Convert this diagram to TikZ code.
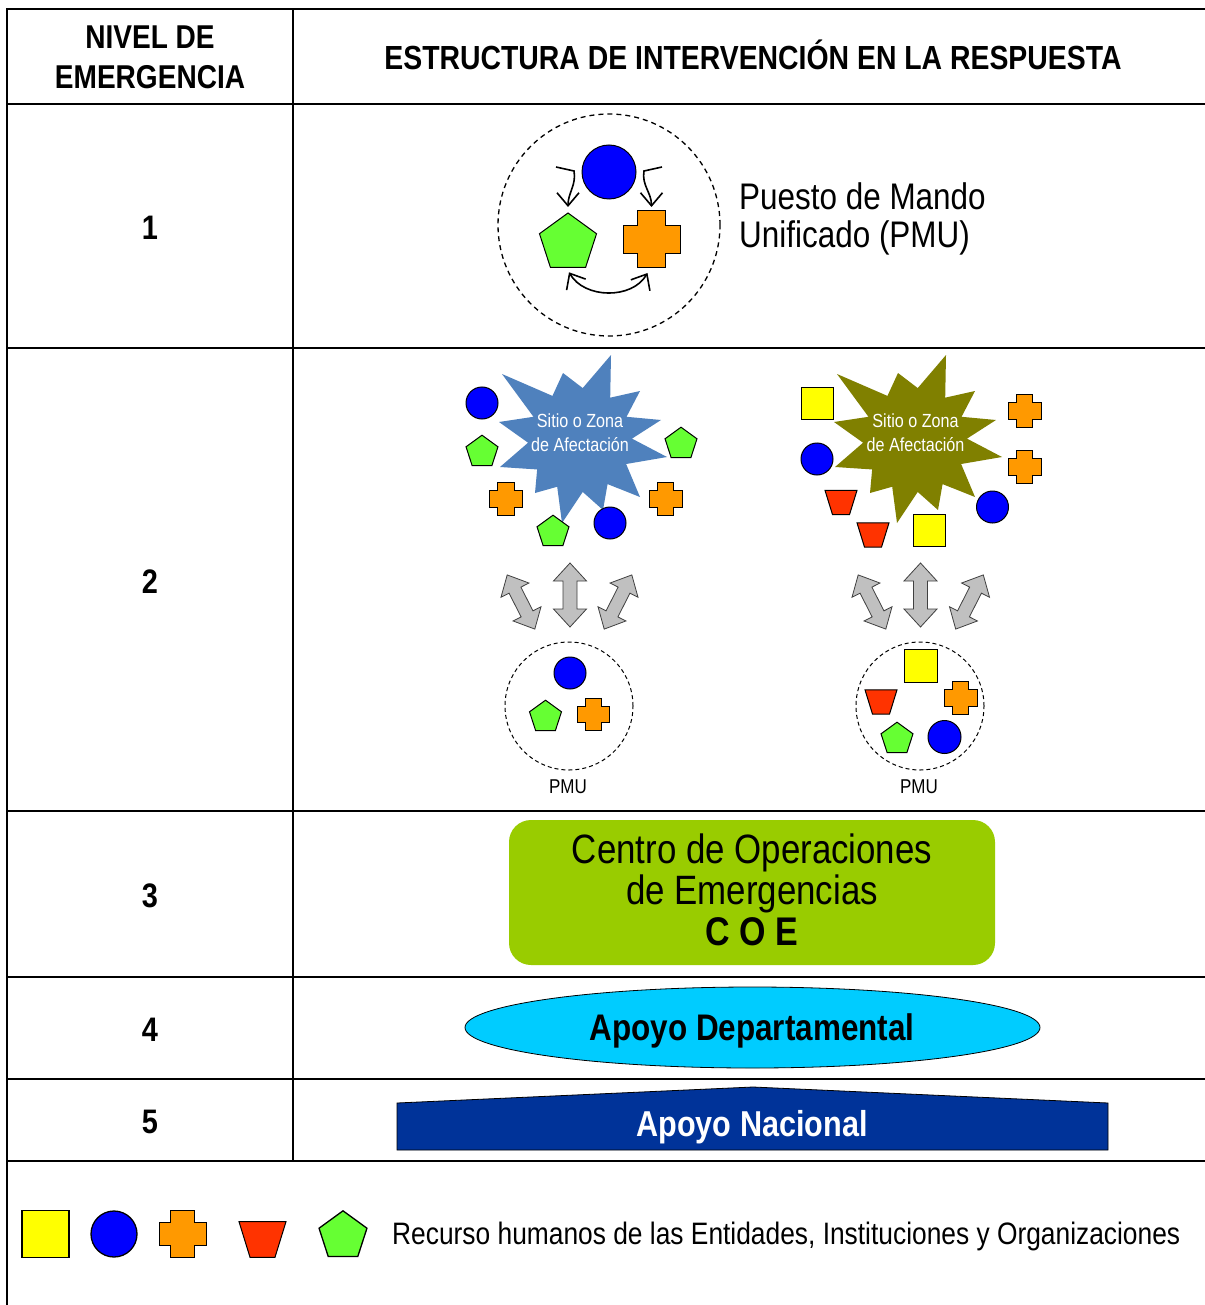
\documentclass[tikz,border=0pt]{standalone}
\usepackage{fontspec}
\setmainfont{Liberation Sans}[FakeStretch=0.85]
\usetikzlibrary{shapes.geometric,arrows.meta,calc}
\newcommand\fsz[2]{\fontsize{#1}{#2}\selectfont}
\definecolor{cblue}{HTML}{0000FF}
\definecolor{cgreen}{HTML}{66FF33}
\definecolor{corange}{HTML}{FF9900}
\definecolor{cyellow}{HTML}{FFFF00}
\definecolor{cred}{HTML}{FF3300}
\definecolor{cstarA}{HTML}{4F81BD}
\definecolor{cstarB}{HTML}{808000}
\definecolor{cgrayarr}{HTML}{C0C0C0}
\definecolor{ccoe}{HTML}{99CC00}
\definecolor{cell}{HTML}{00CCFF}
\definecolor{cnac}{HTML}{003399}
\tikzset{
  tbl/.style={line width=2pt, line cap=rect},
  shp/.style={draw=black, line width=1pt, inner sep=0pt, outer sep=0pt},
  bluec/.style={shp, circle, fill=cblue, minimum size=#1},
  greenp/.style={shp, regular polygon, regular polygon sides=5, fill=cgreen, minimum size=#1},
  yellows/.style={shp, rectangle, fill=cyellow, minimum size=#1},
  ghost/.style={inner sep=0pt, outer sep=0pt, minimum size=#1},
  pics/plusx/.style={code={
    \filldraw[fill=corange, draw=black, line width=1pt]
      ({-#1/2},{-#1}) -- ({#1/2},{-#1}) -- ({#1/2},{-#1/2}) -- ({#1},{-#1/2}) --
      ({#1},{#1/2}) -- ({#1/2},{#1/2}) -- ({#1/2},{#1}) -- ({-#1/2},{#1}) --
      ({-#1/2},{#1/2}) -- ({-#1},{#1/2}) -- ({-#1},{-#1/2}) -- ({-#1/2},{-#1/2}) -- cycle;}},
  pics/trapx/.style={code={
    \filldraw[fill=cred, draw=black, line width=1pt]
      ({-#1},{0.76*#1}) -- ({#1},{0.76*#1}) -- ({0.53*#1},{-0.76*#1}) -- ({-0.53*#1},{-0.76*#1}) -- cycle;}},
  pics/burst/.style={code={
    \fill[#1] (31,85) -- (54.5:52) -- (60,49) -- (26.5:52) -- (81,20) -- (1.5:52) --
      (87,-17) -- (-27.5:52) -- (60,-57) -- (-58:52) -- (23,-70) -- (-87:52) --
      (-18,-83) -- (-116:52) -- (-45,-53) -- (-145.5:52) -- (-80,-27) -- (-177:52) --
      (-81,18) -- (153.5:52) -- (-78,66) -- (122:52) -- (-17,67) -- (87:52) -- cycle;}},
  pics/dblarr/.style={code={
    \filldraw[fill=cgrayarr, draw=black!75, line width=0.8pt]
      (-32,0) -- (-14,16.5) -- (-14,7) -- (14,7) -- (14,16.5) -- (32,0) --
      (14,-16.5) -- (14,-7) -- (-14,-7) -- (-14,-16.5) -- cycle;}},
  lvarr/.style={line width=1.6pt, -{Straight Barb[length=13pt,width=22pt]}},
  lvdbl/.style={line width=1.6pt, {Straight Barb[length=13pt,width=22pt]}-{Straight Barb[length=13pt,width=22pt]}},
  pmucirc/.style={draw=black, dash pattern=on 4pt off 3pt, line width=1pt, circle, minimum size=128pt, inner sep=0pt},
  hdr/.style={font=\bfseries\fsz{33}{40}, align=center, inner sep=0pt},
  num/.style={font=\bfseries\fsz{34}{40}, inner sep=0pt, anchor=base},
  stxt/.style={font=\fsz{19}{24}, text=white, align=center, inner sep=0pt, anchor=north},
  pmutxt/.style={font=\fsz{20}{24}, inner sep=0pt, anchor=base},
}
\begin{document}
\begin{tikzpicture}[x=1pt, y=1pt]
\useasboundingbox (0,0) rectangle (1204,-1305);
\fill[white] (0,0) rectangle (1204,-1305);

% table frame
\draw[tbl] (1204,-9) -- (7,-9) -- (7,-1305);
\draw[tbl] (293,-9) -- (293,-1161);
\foreach \yy in {104,348,811,977,1079,1161} \draw[tbl] (7,-\yy) -- (1204,-\yy);

% header
\node[hdr] (h1) at (150,-57.5) {NIVEL DE\\EMERGENCIA};
\node[hdr, anchor=base, font=\bfseries\fsz{33.4}{40}] (h2) at (753,-70) {ESTRUCTURA DE INTERVENCIÓN EN LA RESPUESTA};

% level numbers
\node[num] (n1) at (150,-240) {1};
\node[num] (n2) at (150,-593) {2};
\node[num] (n3) at (150,-907) {3};
\node[num] (n4) at (150,-1041) {4};
\node[num] (n5) at (150,-1133) {5};

% ---------- level 1 ----------
\node[draw=black, dash pattern=on 5pt off 4pt, line width=1.3pt, circle, minimum size=222pt, inner sep=0pt] (pmu1) at (609,-225) {};
\node[bluec=54pt] (b1) at (609,-172) {};
\node[greenp=60pt] (g1) at (568,-243) {};
\node[ghost=57pt] (o1) at (651.5,-239.5) {};
\pic at (o1) {plusx=28.5};
\draw[lvarr] ($(b1.west)+(-26,5)$) -- ++(18,-4) to[out=-80,in=90] ($(g1.north)+(0,6)$);
\draw[lvarr] ($(b1.east)+(26,5)$) -- ++(-18,-4) to[out=-100,in=90] ($(o1.north)+(0,4)$);
\draw[lvdbl] ($(g1.south)+(1,-5)$) to[out=-60,in=-120] ($(o1.south)+(-4,-5)$);
\node[font=\fsz{37}{38}, align=left, inner sep=0pt, anchor=north west] (pmul) at (739,-182) {Puesto de Mando\\Unificado (PMU)};

% ---------- level 2 left ----------
\pic at (580,-440) {burst=cstarA};
\node[stxt] (s1) at (580,-414) {Sitio o Zona\\de Afectación};
\node[bluec=32pt] (a1) at (482,-403) {};
\node[greenp=33.6pt] (a2) at (482,-452) {};
\pic at (506,-499) {plusx=16.5};
\node[greenp=33.6pt] (a4) at (553,-532) {};
\node[bluec=32pt] (a5) at (610,-523) {};
\node[greenp=33.6pt] (a6) at (681,-444) {};
\pic at (665.5,-499) {plusx=16.5};

\pic[rotate=90] at (570,-595) {dblarr};
\pic[rotate=-63, scale=0.95] at (521,-602) {dblarr};
\pic[rotate=63, scale=0.95] at (618,-602) {dblarr};

\node[pmucirc] (pmuA) at (569,-706) {};
\node[bluec=32pt] (pa1) at (570,-673) {};
\node[greenp=33.6pt] (pa2) at (545.5,-717) {};
\pic at (593,-714) {plusx=16};
\node[pmutxt] (lpA) at (568,-793) {PMU};

% ---------- level 2 right ----------
\pic at (915,-440) {burst=cstarB};
\node[stxt] (s2) at (915.5,-414) {Sitio o Zona\\de Afectación};
\node[yellows=32pt] (r1) at (817,-403) {};
\node[bluec=32pt] (r2) at (817,-459) {};
\pic at (841,-502.5) {trapx=16};
\pic at (873,-535) {trapx=16};
\node[yellows=32pt] (r5) at (929,-530.5) {};
\node[bluec=32pt] (r6) at (992.5,-507) {};
\pic at (1024.5,-411) {plusx=16.5};
\pic at (1024.5,-467) {plusx=16.5};

\pic[rotate=90] at (920.5,-595) {dblarr};
\pic[rotate=-63, scale=0.95] at (872,-602) {dblarr};
\pic[rotate=63, scale=0.95] at (969.5,-602) {dblarr};

\node[pmucirc] (pmuB) at (920,-706) {};
\node[yellows=33pt] (pb1) at (920.5,-666) {};
\pic at (881,-702) {trapx=16};
\pic at (960.5,-698) {plusx=16.5};
\node[greenp=33.6pt] (pb4) at (897,-739) {};
\node[bluec=33pt] (pb5) at (944.5,-737) {};
\node[pmutxt] (lpB) at (919,-793) {PMU};

% ---------- level 3 ----------
\node[fill=ccoe, rounded corners=22pt, minimum width=486pt, minimum height=145pt, inner sep=0pt] (coebox) at (752,-892.5) {};
\node[font=\fsz{41}{41}, align=center, inner sep=0pt, anchor=north] (coetxt) at (752,-834) {Centro de Operaciones\\de Emergencias\\\bfseries\fsz{40}{42}C O E};

% ---------- level 4 ----------
\node[ellipse, draw=black, line width=0.8pt, fill=cell, minimum width=575pt, minimum height=81pt, inner sep=0pt] (dep) at (752.5,-1027.5) {};
\node[font=\bfseries\fsz{37}{40}, inner sep=0pt, anchor=base] (deptxt) at (752,-1040) {Apoyo Departamental};

% ---------- level 5 ----------
\draw[fill=cnac, line width=0.8pt] (397,-1103) -- (753,-1087) -- (1108,-1103) -- (1108,-1150) -- (397,-1150) -- cycle;
\node[font=\bfseries\fsz{36}{40}, text=white, inner sep=0pt, anchor=base] (nactxt) at (752,-1136) {Apoyo Nacional};

% ---------- legend ----------
\node[yellows=47pt, line width=1.3pt] (lg1) at (45.5,-1234) {};
\node[bluec=46pt, line width=1.3pt] (lg2) at (114,-1234) {};
\pic at (182.5,-1234) {plusx=23.5};
\pic at (262.5,-1239.5) {trapx=23.5};
\node[greenp=50.4pt, line width=1.3pt] (lg5) at (343,-1236) {};
\node[font=\fsz{31}{36}, inner sep=0pt, anchor=base west] (lgtxt) at (392,-1244) {Recurso humanos de las Entidades, Instituciones y Organizaciones};
\end{tikzpicture}
\end{document}
